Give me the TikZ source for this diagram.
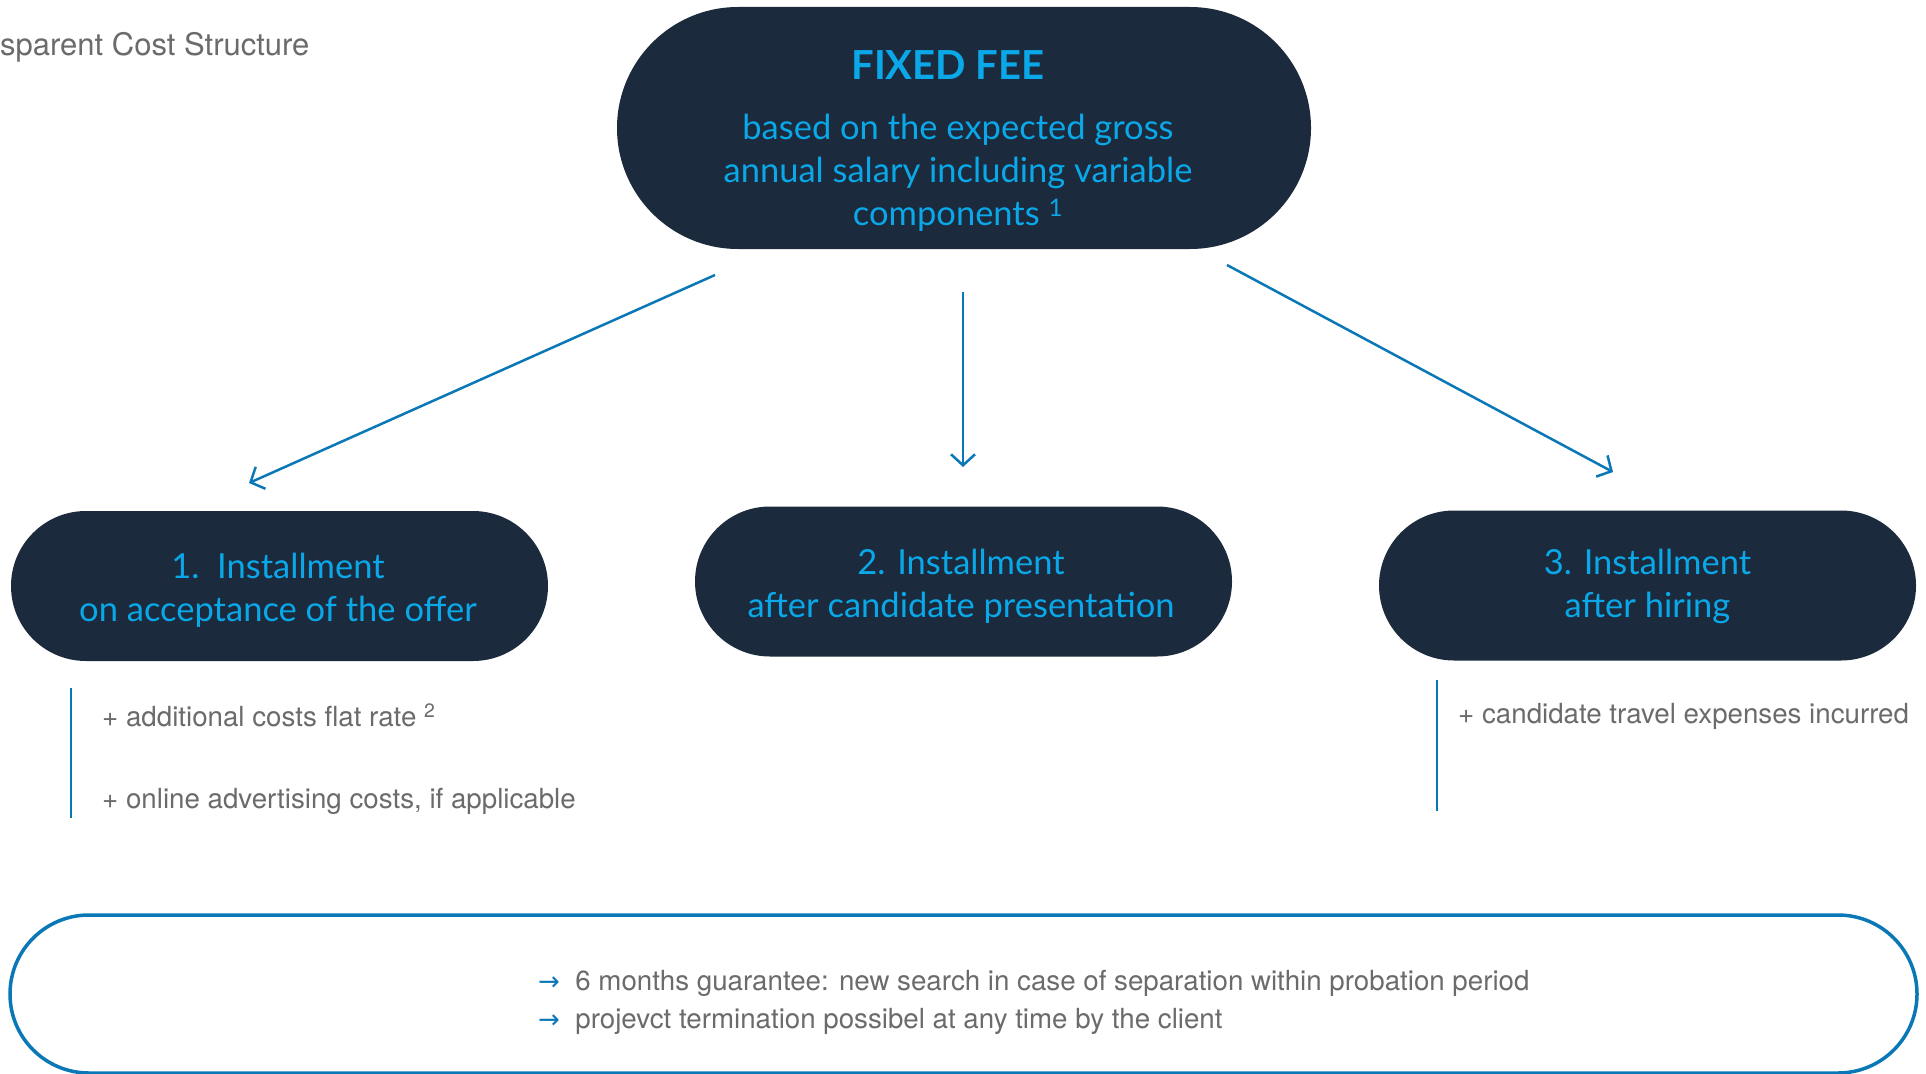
\documentclass[tikz,border=0pt]{standalone}
\usepackage{fontspec}
\setmainfont{Lato}
\newfontfamily\greyfont{TeX Gyre Heros}
\newfontfamily\arrfont{DejaVu Sans}
\usetikzlibrary{arrows.meta}
\definecolor{navy}{HTML}{1B2A3D}
\definecolor{cyantext}{HTML}{0AA8E8}
\definecolor{blueline}{HTML}{0A78B6}
\definecolor{greytext}{HTML}{6B6B6B}
\tikzset{
  pill/.style={fill=navy, draw=none, rounded corners=75pt, inner sep=0pt},
  pilltext/.style={text=cyantext, align=center, font=\fontsize{34.5}{43}\selectfont, inner sep=0pt},
  arr/.style={draw=blueline, line width=2.5pt, -{Straight Barb[length=11pt,width=24pt,line width=2.5pt]}},
  bar/.style={draw=blueline, line width=2.5pt},
  greynote/.style={text=greytext, anchor=west, inner sep=0pt, font=\greyfont\fontsize{27.7}{32}\selectfont},
}
\begin{document}
\begin{tikzpicture}[x=1pt,y=-1pt]
\useasboundingbox (0,0) rectangle (1926,1073);
\fill[white] (0,0) rectangle (1926,1073);

% title
\node[text=greytext, anchor=west, inner sep=0pt, font=\greyfont\fontsize{31}{35}\selectfont] (title) at (0,47) {sparent Cost Structure};

% top box
\node[pill, rounded corners=121pt, minimum width=694pt, minimum height=242pt] (fee) at (964,128) {};
\node[pilltext, font=\bfseries\fontsize{40}{46}\selectfont] (feet) at (948,65) {FIXED FEE};
\node[pilltext] (feeb) at (958,173) {based on the expected gross\\annual salary including variable\\components \textsuperscript{1}};

% installment boxes
\node[pill, minimum width=537pt, minimum height=150pt] (i1) at (279.5,586) {};
\node[pilltext] (i1t) at (278,590) {1.\ \ Installment\\on acceptance of the offer};
\node[pill, minimum width=537pt, minimum height=150pt] (i2) at (963.5,581.5) {};
\node[pilltext] (i2t) at (961,586) {2. Installment\\after candidate presentation};
\node[pill, minimum width=537pt, minimum height=150pt] (i3) at (1647.5,585.5) {};
\node[pilltext] (i3t) at (1647.5,586) {3. Installment\\after hiring};

% arrows
\coordinate (a1s) at (715,275);
\coordinate (a1e) at (249,483);
\coordinate (a2s) at (963,292);
\coordinate (a2e) at (963,467);
\coordinate (a3s) at (1227,265);
\coordinate (a3e) at (1613,472);
\draw[arr] (a1s) -- (a1e);
\draw[arr] (a2s) -- (a2e);
\draw[arr] (a3s) -- (a3e);

% side bars and notes
\coordinate (b1t) at (71,688);
\coordinate (b1b) at (71,818);
\draw[bar] (b1t) -- (b1b);
\coordinate (b3t) at (1437,680);
\coordinate (b3b) at (1437,811);
\draw[bar] (b3t) -- (b3b);
\node[greynote] (n1) at (102,715) {+ additional costs flat rate \textsuperscript{2}};
\node[greynote] (n2) at (102,801) {+ online advertising costs, if applicable};
\node[greynote] (n3) at (1458,716) {+ candidate travel expenses incurred};

% bottom box
\draw[draw=blueline, line width=3.5pt, rounded corners=79pt] (10,915) rectangle (1917,1073);
\node[greynote] (g1) at (538,983) {{\arrfont\color{blueline}\fontsize{26}{30}\selectfont →}\ \ 6 months guarantee: new search in case of separation within probation period};
\node[greynote] (g2) at (538,1021) {{\arrfont\color{blueline}\fontsize{26}{30}\selectfont →}\ \ projevct termination possibel at any time by the client};
\end{tikzpicture}
\end{document}
